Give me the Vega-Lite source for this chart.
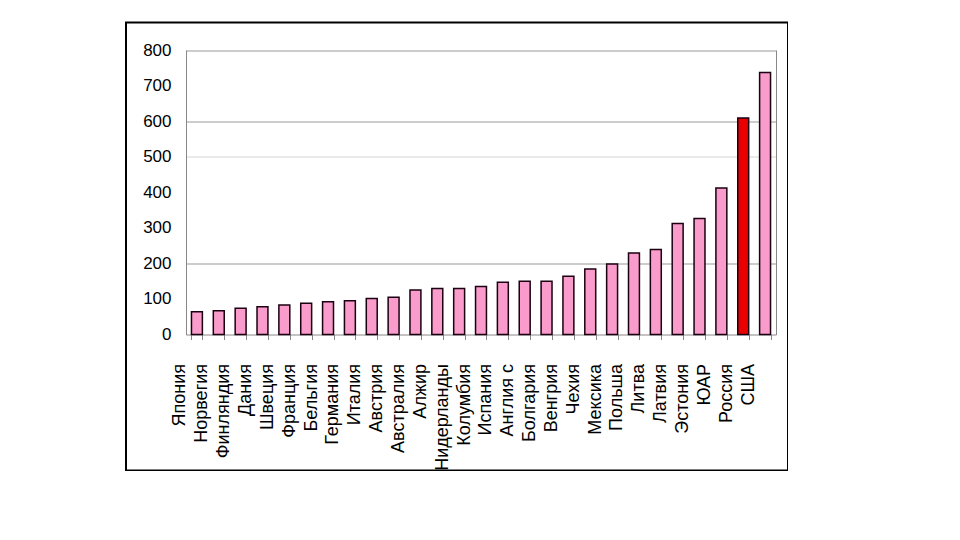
{
  "$schema": "https://vega.github.io/schema/vega-lite/v6.json",
  "width": 662,
  "height": 448,
  "autosize": {"type": "none"},
  "padding": {"left": 126, "top": 22.5, "right": 0, "bottom": 0},
  "background": "white",
  "config": {
    "view": {"stroke": "black", "strokeWidth": 2},
    "font": "Liberation Sans",
    "axisX": {
      "title": null,
      "offset": -136,
      "labelAngle": -90,
      "labelAlign": "right",
      "labelBaseline": "middle",
      "labelFontSize": 18,
      "labelColor": "black",
      "labelOffset": -17,
      "labelPadding": 24,
      "labelLimit": 200,
      "tickBand": "extent",
      "tickSize": 5,
      "tickColor": "#888888",
      "domainColor": "#888888",
      "grid": false
    }
  },
  "data": {
    "values": [
      {"country": "Япония", "value": 64, "group": "other"},
      {"country": "Норвегия", "value": 67, "group": "other"},
      {"country": "Финляндия", "value": 74, "group": "other"},
      {"country": "Дания", "value": 78, "group": "other"},
      {"country": "Швеция", "value": 83, "group": "other"},
      {"country": "Франция", "value": 88, "group": "other"},
      {"country": "Бельгия", "value": 92, "group": "other"},
      {"country": "Германия", "value": 95, "group": "other"},
      {"country": "Италия", "value": 101, "group": "other"},
      {"country": "Австрия", "value": 105, "group": "other"},
      {"country": "Австралия", "value": 125, "group": "other"},
      {"country": "Алжир", "value": 129, "group": "other"},
      {"country": "Нидерланды", "value": 129, "group": "other"},
      {"country": "Колумбия", "value": 135, "group": "other"},
      {"country": "Испания", "value": 147, "group": "other"},
      {"country": "Англия с", "value": 150, "group": "other"},
      {"country": "Болгария", "value": 150, "group": "other"},
      {"country": "Венгрия", "value": 164, "group": "other"},
      {"country": "Чехия", "value": 184, "group": "other"},
      {"country": "Мексика", "value": 198, "group": "other"},
      {"country": "Польша", "value": 229, "group": "other"},
      {"country": "Литва", "value": 239, "group": "other"},
      {"country": "Латвия", "value": 312, "group": "other"},
      {"country": "Эстония", "value": 326, "group": "other"},
      {"country": "ЮАР", "value": 412, "group": "other"},
      {"country": "Россия", "value": 609, "group": "highlight"},
      {"country": "США", "value": 737, "group": "other"}
    ]
  },
  "layer": [
    {
      "mark": {"type": "bar", "stroke": "#1a0010", "strokeWidth": 1.5},
      "encoding": {
        "x": {
          "field": "country",
          "type": "nominal",
          "sort": null,
          "scale": {"range": [60, 650], "paddingInner": 0.5, "paddingOuter": 0.25}
        },
        "y": {
          "field": "value",
          "type": "quantitative",
          "scale": {"domain": [0, 800], "range": [312, 27.5], "nice": false},
          "axis": {
            "title": null,
            "offset": -60,
            "values": [0, 100, 200, 300, 400, 500, 600, 700, 800],
            "ticks": false,
            "labelPadding": 15,
            "labelFontSize": 17,
            "labelColor": "black",
            "domainColor": "#888888",
            "grid": true,
            "gridColor": {"condition": {"test": "datum.value == 500", "value": "#d4d4d4"}, "value": "#999999"},
            "gridOpacity": {"condition": {"test": "datum.value == 200 || datum.value == 500 || datum.value == 600 || datum.value == 800", "value": 1}, "value": 0}
          }
        },
        "color": {
          "field": "group",
          "type": "nominal",
          "scale": {"domain": ["other", "highlight"], "range": ["#F99BCB", "#E80000"]},
          "legend": null
        }
      }
    },
    {
      "mark": {"type": "bar", "opacity": 0},
      "encoding": {
        "x": {"field": "country", "type": "nominal", "sort": null},
        "y": {
          "field": "value",
          "type": "quantitative",
          "axis": {
            "orient": "right",
            "offset": -12,
            "title": null,
            "labels": false,
            "ticks": false,
            "grid": false,
            "domainColor": "#888888"
          }
        }
      }
    }
  ],
  "resolve": {"axis": {"y": "independent"}}
}
